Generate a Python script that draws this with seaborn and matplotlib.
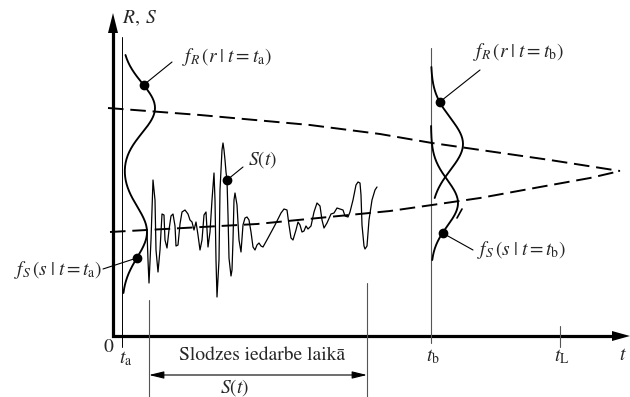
import numpy as np
import pandas as pd
import seaborn as sns
import matplotlib.pyplot as plt

sns.set_theme(style="white")
plt.rcParams['font.family'] = ['Liberation Serif', 'DejaVu Serif']
plt.rcParams['mathtext.fontset'] = 'stix'

# time marks on the t axis
t_a = 9
t_b = 318
t_L = 447
load_start = 36
load_end = 254

# mean resistance R(t) (upper dashed curve) and mean load S(t) (lower dashed curve)
r_mean_t = [-5, 87, 197, 267, 319, 437, 507]
r_mean_v = [228, 221, 211, 202, 193, 176, 165]
s_mean_t = [-3, 144, 277, 319, 367, 427, 477, 507]
s_mean_v = [104, 112, 125, 131, 138, 149, 158, 165]

# density parameters at t_a and t_b: mean, spread, drawn height
r_pdf_mu = [228, 192]
r_pdf_sd = [25, 26]
r_pdf_amp = [33, 32]
s_pdf_mu = [104, 133]
s_pdf_sd = [25.5, 23]
s_pdf_amp = [25, 27]

# marked points on the densities (value levels)
dot_fr_ta = 251
dot_fs_ta = 78
dot_fr_tb = 234
dot_fs_tb = 103

# load history S(t)
sig_t = [34, 35, 36, 38, 40, 42, 43, 45, 47, 49, 51, 52, 54, 56, 58, 60, 62, 63, 65, 67,
         69, 72, 75, 77, 79, 81, 83, 85, 87, 89, 91, 93, 95, 97, 99, 101, 102, 103, 104, 106,
         107, 109, 110, 111, 112, 113, 114, 115, 116, 118, 119, 120, 121, 122, 124, 126, 128, 130, 132, 134,
         136, 138, 140, 142, 144, 146, 148, 150, 155, 162, 168, 171, 174, 176, 178, 180, 183, 185, 187, 189,
         191, 193, 195, 198, 201, 204, 207, 209, 211, 214, 218, 221, 224, 227, 230, 232, 235, 237, 240, 243,
         245, 247, 248, 249, 251, 252, 254, 256, 259, 262, 264]
sig_v = [104, 76, 53, 96, 156, 136, 86, 64, 86, 122, 121, 96, 88, 106, 120, 122, 110, 90, 91, 112,
         124, 126, 122, 116, 114, 106, 114, 101, 86, 96, 121, 124, 89, 104, 136, 163, 136, 76, 39, 76,
         146, 186, 193, 186, 176, 164, 156, 121, 78, 60, 66, 96, 136, 143, 131, 96, 84, 111, 118, 119,
         116, 104, 89, 86, 91, 93, 90, 89, 98, 111, 123, 127, 126, 111, 98, 96, 106, 114, 111, 104,
         105, 110, 107, 110, 124, 133, 130, 116, 108, 113, 122, 123, 128, 127, 126, 120, 119, 124, 136, 151,
         154, 153, 141, 111, 90, 87, 90, 116, 136, 146, 149]
sig_dot_t = 114

fig = plt.figure(figsize=(6.3, 3.97), dpi=100)
ax = fig.add_axes([0, 0, 1, 1])
ax.set_xlim(-113, 517)
ax.set_ylim(-61, 336)
ax.axis('off')

K = 'black'
G = '#555555'


def bell(v, mu, sd, amp):
    return amp * np.exp(-(np.asarray(v) - mu) ** 2 / (2 * sd ** 2))


# coordinate axes with arrow heads
ax.plot([0, 0, 500], [305, 0, 0], color=K, lw=2.3, solid_joinstyle='miter',
        solid_capstyle='projecting')
ax.fill([-5, 5, 0], [303, 303, 323], color=K, lw=0)
ax.fill([499, 499, 517], [5, -5, 0], color=K, lw=0)

# vertical reference lines
ax.plot([t_a, t_a], [299, -11], color=K, lw=0.7)
ax.plot([t_b, t_b], [288, -7], color=G, lw=0.8)
ax.plot([t_L, t_L], [10, -11], color=G, lw=0.8)
ax.plot([load_start, load_start], [36, -61], color=G, lw=0.8)
ax.plot([load_end, load_end], [53, -61], color=G, lw=0.8)

# mean curves
dash = (0, (8, 3.5))
sns.lineplot(x=r_mean_t, y=r_mean_v, sort=False, estimator=None, color=K, lw=1.4,
             linestyle=dash, ax=ax)
sns.lineplot(x=s_mean_t, y=s_mean_v, sort=False, estimator=None, color=K, lw=1.4,
             linestyle=dash, ax=ax)

# densities at t_a (drawn as one stroke)
v_a = np.linspace(43, 281, 200)
x_a = t_a + bell(v_a, r_pdf_mu[0], r_pdf_sd[0], r_pdf_amp[0]) + bell(v_a, s_pdf_mu[0], s_pdf_sd[0], s_pdf_amp[0])
sns.lineplot(x=x_a, y=v_a, sort=False, estimator=None, color=K, lw=1.35, ax=ax)

# densities at t_b
v_rb = np.linspace(138, 269, 150)
x_rb = t_b + bell(v_rb, r_pdf_mu[1], r_pdf_sd[1], r_pdf_amp[1])
sns.lineplot(x=x_rb, y=v_rb, sort=False, estimator=None, color=K, lw=1.35, ax=ax)
v_sb = np.linspace(76, 210, 150)
x_sb = t_b + bell(v_sb, s_pdf_mu[1], s_pdf_sd[1], s_pdf_amp[1])
sns.lineplot(x=x_sb, y=v_sb, sort=False, estimator=None, color=K, lw=1.35, ax=ax)
ax.plot([349, 344], [127, 118], color=K, lw=1.2)

# load history
sns.lineplot(x=sig_t, y=sig_v, sort=False, estimator=None, color=K, lw=0.9, ax=ax)

# marked points and leaders
def fx_a(v):
    return t_a + bell(v, r_pdf_mu[0], r_pdf_sd[0], r_pdf_amp[0]) + bell(v, s_pdf_mu[0], s_pdf_sd[0], s_pdf_amp[0])

p1 = (fx_a(dot_fr_ta), dot_fr_ta)
p2 = (fx_a(dot_fs_ta), dot_fs_ta)
p3 = (t_b + bell(dot_fr_tb, r_pdf_mu[1], r_pdf_sd[1], r_pdf_amp[1]), dot_fr_tb)
p4 = (t_b + bell(dot_fs_tb, s_pdf_mu[1], s_pdf_sd[1], s_pdf_amp[1]), dot_fs_tb)
p5 = (sig_dot_t, sig_v[sig_t.index(sig_dot_t)])

leaders = [(p1, (59, 274)), (p2, (-10, 67)), (p3, (367, 266)), (p4, (360, 86)), (p5, (130, 169))]
for p, q in leaders:
    ax.plot([p[0], q[0]], [p[1], q[1]], color=K, lw=0.8)
    ax.plot([p[0]], [p[1]], 'o', color=K, ms=6)

fs = 14
ax.text(9, 318, r'$R,\;S$', fontsize=fs, ha='left', va='center')
ax.text(69, 279, r'$f_R\,(r\;|\;t=t_{\mathrm{a}})$', fontsize=fs, ha='left', va='center')
ax.text(-11, 66, r'$f_S\,(s\;|\;t=t_{\mathrm{a}})$', fontsize=fs, ha='right', va='center')
ax.text(135, 176, r'$S(t)$', fontsize=fs, ha='left', va='center')
ax.text(360, 284, r'$f_R\,(r\;|\;t=t_{\mathrm{b}})$', fontsize=fs, ha='left', va='center')
ax.text(364, 86, r'$f_S\,(s\;|\;t=t_{\mathrm{b}})$', fontsize=fs, ha='left', va='center')

ax.text(-5, -11, '0', fontsize=fs, ha='center', va='center', family='STIXGeneral')
ax.text(t_a + 4, -23, r'$t_{\mathrm{a}}$', fontsize=fs, ha='center', va='center')
ax.text(t_b + 2, -21, r'$t_{\mathrm{b}}$', fontsize=fs, ha='center', va='center')
ax.text(t_L + 2, -21, r'$t_{\mathrm{L}}$', fontsize=fs, ha='center', va='center')
ax.text(514, -19, r'$t$', fontsize=fs, ha='right', va='center')

ax.text((load_start + load_end) / 2 + 4, -19, 'Slodzes iedarbe laikā', fontsize=fs,
        ha='center', va='center', family='STIXGeneral')
ax.annotate('', xy=(load_start, -39), xytext=(load_end, -39),
            arrowprops=dict(arrowstyle='<|-|>,head_length=0.9,head_width=0.22',
                            mutation_scale=10, lw=0.8, color=K, shrinkA=0, shrinkB=0))
ax.text(122, -52, r'$S(t)$', fontsize=fs, ha='center', va='center')

fig.savefig('out.png', dpi=100)
